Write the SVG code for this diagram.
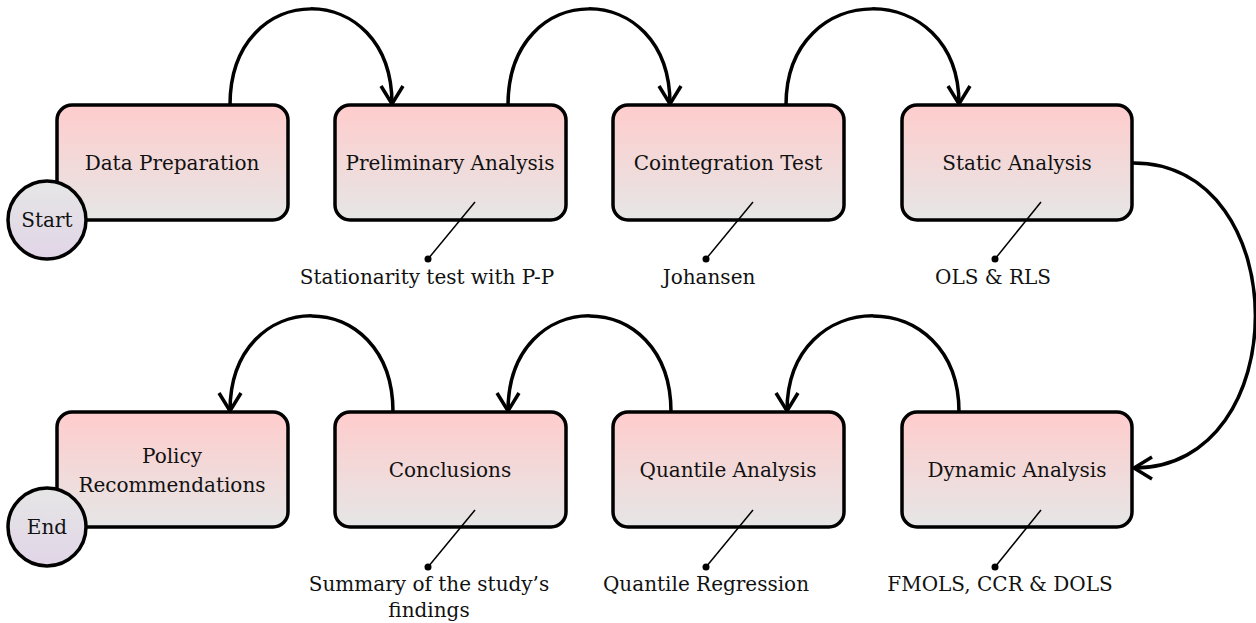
<svg xmlns="http://www.w3.org/2000/svg" width="1256" height="623" viewBox="0 0 1256 623">
<defs>
<linearGradient id="boxg" x1="0" y1="0" x2="0" y2="1"><stop offset="0" stop-color="#FFCCCC"/><stop offset="1" stop-color="#E6E6E6"/></linearGradient>
<linearGradient id="circg" x1="0" y1="0" x2="0" y2="1"><stop offset="0" stop-color="#E6E6E6"/><stop offset="1" stop-color="#E1D5E7"/></linearGradient>
<marker id="arr" viewBox="0 0 26 26" refX="22" refY="13" markerWidth="26" markerHeight="26" markerUnits="userSpaceOnUse" orient="auto"><path d="M4,2 L22,13 L4,24" fill="none" stroke="#000" stroke-width="3.5"/></marker>
<style>
rect.b{fill:url(#boxg);stroke:#000;stroke-width:3.5}
circle.c{fill:url(#circg);stroke:#000;stroke-width:3.5}
text{font-family:"DejaVu Serif","Liberation Serif",serif;font-size:20px;fill:#111;text-anchor:middle}
.conn{fill:none;stroke:#000;stroke-width:3.5;marker-end:url(#arr)}
.ann{stroke:#000;stroke-width:1.5}
.dot{fill:#000}
</style>
</defs>
<g id="connectors">
<path class="conn" d="M230,105 C230,-23 392,-23 392,104"/>
<path class="conn" d="M508,105 C508,-23 670,-23 670,104"/>
<path class="conn" d="M786,105 C786,-23 959,-23 959,104"/>
<path class="conn" d="M1133,163 C1296,163 1296,468 1134,468"/>
<path class="conn" d="M959,412 C959,284 787,284 787,411"/>
<path class="conn" d="M671,412 C671,284 508,284 508,411"/>
<path class="conn" d="M393,412 C393,284 230,284 230,411"/>
</g>
<g id="n-data"><rect class="b" x="57" y="105" width="231" height="115" rx="15"/><text x="172" y="170">Data Preparation</text></g>
<g id="n-start"><circle class="c" cx="47" cy="220" r="39"/><text x="47" y="227">Start</text></g>
<g id="n-prelim"><rect class="b" x="335" y="105" width="231" height="115" rx="15"/><text x="450" y="170">Preliminary Analysis</text>
<line class="ann" x1="475" y1="202" x2="428" y2="259"/><circle class="dot" cx="428" cy="259" r="3.5"/><text x="427" y="284">Stationarity test with P-P</text></g>
<g id="n-coint"><rect class="b" x="613" y="105" width="231" height="115" rx="15"/><text x="728" y="170">Cointegration Test</text>
<line class="ann" x1="753" y1="202" x2="706" y2="259"/><circle class="dot" cx="706" cy="259" r="3.5"/><text x="709" y="284">Johansen</text></g>
<g id="n-static"><rect class="b" x="902" y="105" width="230" height="115" rx="15"/><text x="1017" y="170">Static Analysis</text>
<line class="ann" x1="1041" y1="202" x2="995" y2="259"/><circle class="dot" cx="995" cy="259" r="3.5"/><text x="993" y="284">OLS &amp; RLS</text></g>
<g id="n-dynamic"><rect class="b" x="902" y="412" width="230" height="115" rx="15"/><text x="1017" y="477">Dynamic Analysis</text>
<line class="ann" x1="1041" y1="510" x2="995" y2="567"/><circle class="dot" cx="995" cy="567" r="3.5"/><text x="1000" y="591">FMOLS, CCR &amp; DOLS</text></g>
<g id="n-quantile"><rect class="b" x="613" y="412" width="231" height="115" rx="15"/><text x="728" y="477">Quantile Analysis</text>
<line class="ann" x1="753" y1="510" x2="706" y2="567"/><circle class="dot" cx="706" cy="567" r="3.5"/><text x="706" y="591">Quantile Regression</text></g>
<g id="n-concl"><rect class="b" x="335" y="412" width="231" height="115" rx="15"/><text x="450" y="477">Conclusions</text>
<line class="ann" x1="475" y1="510" x2="428" y2="567"/><circle class="dot" cx="428" cy="567" r="3.5"/><text x="429" y="591">Summary of the study’s</text><text x="429" y="617">findings</text></g>
<g id="n-policy"><rect class="b" x="57" y="412" width="231" height="115" rx="15"/><text x="172" y="463">Policy</text><text x="172" y="492">Recommendations</text></g>
<g id="n-end"><circle class="c" cx="47" cy="527" r="39"/><text x="47" y="534">End</text></g>
</svg>
